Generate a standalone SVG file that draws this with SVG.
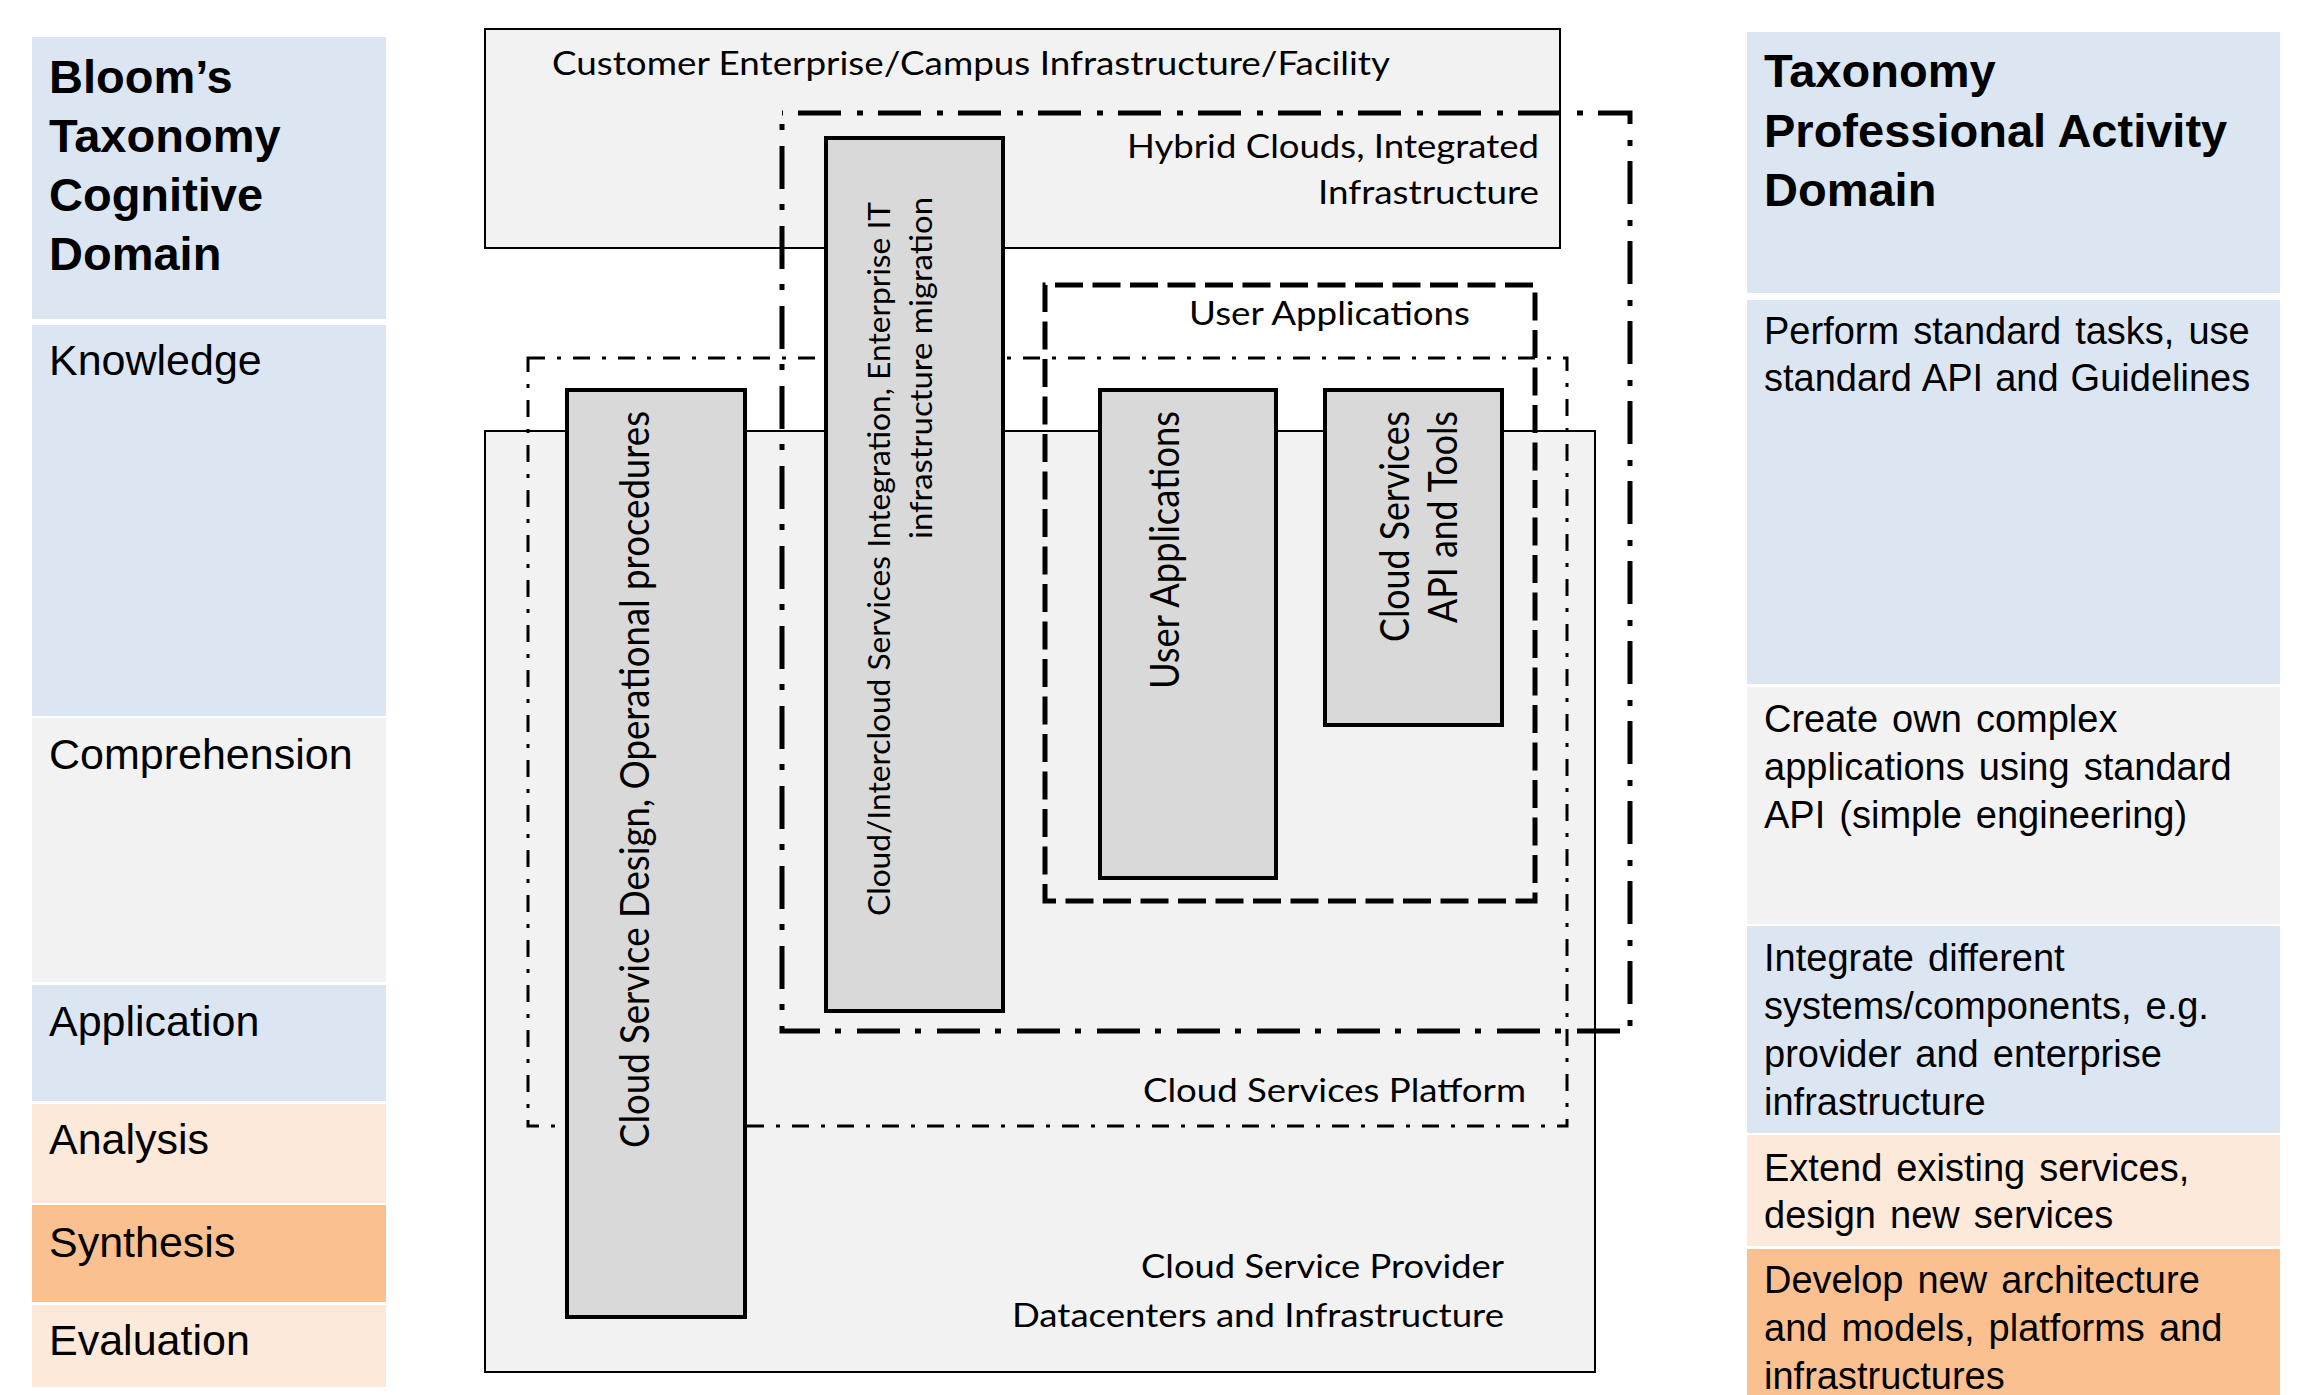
<svg xmlns="http://www.w3.org/2000/svg" width="2308" height="1395" viewBox="0 0 2308 1395">
<style>
.blue{fill:#dce6f2}
.gray{fill:#f2f2f2}
.peach{fill:#fde9d9}
.orange{fill:#fac090}
.hd{font-family:"Liberation Sans",Arial,sans-serif;font-weight:bold;font-size:47px;fill:#000}
.lt{font-family:"Liberation Sans",Arial,sans-serif;font-size:43px;fill:#000}
.rt{font-family:"Liberation Sans",Arial,sans-serif;font-size:38px;fill:#000;word-spacing:3.5px}
.area{fill:#f2f2f2;stroke:#000;stroke-width:2}
.box{fill:#d9d9d9;stroke:#000;stroke-width:4}
.lbl{font-family:Lato,"Open Sans",sans-serif;font-size:32px;fill:#000}
.vt{font-family:Lato,"Open Sans",sans-serif;font-size:41px;fill:#000}
.vs{font-family:Lato,"Open Sans",sans-serif;font-size:31px;fill:#000}
</style>
<rect width="2308" height="1395" fill="#fff"/>

<g id="bloom-column">
  <g id="bloom-header">
    <rect class="blue" x="32" y="37" width="354" height="282"/>
    <text class="hd" x="49" y="93">Bloom’s</text>
    <text class="hd" x="49" y="152">Taxonomy</text>
    <text class="hd" x="49" y="211">Cognitive</text>
    <text class="hd" x="49" y="270">Domain</text>
  </g>
  <g id="knowledge">
    <rect class="blue" x="32" y="325" width="354" height="391"/>
    <text class="lt" x="49" y="375">Knowledge</text>
  </g>
  <g id="comprehension">
    <rect class="gray" x="32" y="718" width="354" height="264"/>
    <text class="lt" x="49" y="769">Comprehension</text>
  </g>
  <g id="application">
    <rect class="blue" x="32" y="985" width="354" height="116"/>
    <text class="lt" x="49" y="1036">Application</text>
  </g>
  <g id="analysis">
    <rect class="peach" x="32" y="1104" width="354" height="99"/>
    <text class="lt" x="49" y="1154">Analysis</text>
  </g>
  <g id="synthesis">
    <rect class="orange" x="32" y="1205" width="354" height="97"/>
    <text class="lt" x="49" y="1257">Synthesis</text>
  </g>
  <g id="evaluation">
    <rect class="peach" x="32" y="1305" width="354" height="82"/>
    <text class="lt" x="49" y="1355">Evaluation</text>
  </g>
</g>

<g id="activity-column">
  <g id="activity-header">
    <rect class="blue" x="1747" y="32" width="533" height="261"/>
    <text class="hd" x="1764" y="87">Taxonomy</text>
    <text class="hd" x="1764" y="147">Professional Activity</text>
    <text class="hd" x="1764" y="206">Domain</text>
  </g>
  <g id="act-knowledge">
    <rect class="blue" x="1747" y="300" width="533" height="384"/>
    <text class="rt" x="1764" y="344">Perform standard tasks, use</text>
    <text class="rt" x="1764" y="391" style="word-spacing:1.5px">standard API and Guidelines</text>
  </g>
  <g id="act-comprehension">
    <rect class="gray" x="1747" y="687" width="533" height="237"/>
    <text class="rt" x="1764" y="732">Create own complex</text>
    <text class="rt" x="1764" y="780">applications using standard</text>
    <text class="rt" x="1764" y="828">API (simple engineering)</text>
  </g>
  <g id="act-application">
    <rect class="blue" x="1747" y="926" width="533" height="207"/>
    <text class="rt" x="1764" y="971">Integrate different</text>
    <text class="rt" x="1764" y="1019">systems/components, e.g.</text>
    <text class="rt" x="1764" y="1067">provider and enterprise</text>
    <text class="rt" x="1764" y="1115">infrastructure</text>
  </g>
  <g id="act-analysis">
    <rect class="peach" x="1747" y="1135" width="533" height="111"/>
    <text class="rt" x="1764" y="1181">Extend existing services,</text>
    <text class="rt" x="1764" y="1228">design new services</text>
  </g>
  <g id="act-synthesis">
    <rect class="orange" x="1747" y="1249" width="533" height="146"/>
    <text class="rt" x="1764" y="1293">Develop new architecture</text>
    <text class="rt" x="1764" y="1341">and models, platforms and</text>
    <text class="rt" x="1764" y="1389">infrastructures</text>
  </g>
</g>

<g id="customer-enterprise">
  <rect class="area" x="485" y="29" width="1075" height="219"/>
</g>
<g id="cloud-service-provider">
  <rect class="area" x="485" y="431" width="1110" height="941"/>
</g>
<g id="cloud-services-platform">
  <rect x="528" y="358" width="1039" height="768" fill="none" stroke="#000" stroke-width="3" stroke-dasharray="17 12 4 12"/>
</g>
<g id="hybrid-clouds">
  <rect x="782" y="113" width="848" height="918" fill="none" stroke="#000" stroke-width="5" stroke-dasharray="43 16 6 15" stroke-dashoffset="-16"/>
</g>
<g id="user-applications-area">
  <rect x="1045" y="285" width="490" height="616" fill="none" stroke="#000" stroke-width="5" stroke-dasharray="28 9.5" stroke-dashoffset="-10"/>
</g>

<g id="design-box">
  <rect class="box" x="567" y="390" width="178" height="927"/>
  <text class="vt" transform="translate(649,1148) rotate(-90)" textLength="737" lengthAdjust="spacingAndGlyphs">Cloud Service Design, Operational procedures</text>
</g>
<g id="intercloud-box">
  <rect class="box" x="826" y="138" width="177" height="873"/>
  <text class="vs" transform="translate(890,916) rotate(-90)" textLength="714" lengthAdjust="spacingAndGlyphs">Cloud/Intercloud Services Integration, Enterprise IT</text>
  <text class="vs" transform="translate(932,539) rotate(-90)" textLength="342" lengthAdjust="spacingAndGlyphs">infrastructure  migration</text>
</g>
<g id="user-apps-box">
  <rect class="box" x="1100" y="390" width="176" height="488"/>
  <text class="vt" transform="translate(1179,689) rotate(-90)" textLength="278" lengthAdjust="spacingAndGlyphs">User Applications</text>
</g>
<g id="api-box">
  <rect class="box" x="1325" y="390" width="177" height="335"/>
  <text class="vt" transform="translate(1409,642) rotate(-90)" textLength="231" lengthAdjust="spacingAndGlyphs">Cloud Services</text>
  <text class="vt" transform="translate(1457,623) rotate(-90)" textLength="212" lengthAdjust="spacingAndGlyphs">API and Tools</text>
</g>

<g id="area-labels">
  <text class="lbl" x="552" y="75" textLength="838" lengthAdjust="spacingAndGlyphs">Customer Enterprise/Campus Infrastructure/Facility</text>
  <text class="lbl" x="1127" y="158" textLength="412" lengthAdjust="spacingAndGlyphs">Hybrid Clouds, Integrated</text>
  <text class="lbl" x="1318" y="204" textLength="221" lengthAdjust="spacingAndGlyphs">Infrastructure</text>
  <text class="lbl" x="1189" y="325" textLength="281" lengthAdjust="spacingAndGlyphs">User Applications</text>
  <text class="lbl" x="1143" y="1102" textLength="383" lengthAdjust="spacingAndGlyphs">Cloud Services Platform</text>
  <text class="lbl" x="1141" y="1278" textLength="363" lengthAdjust="spacingAndGlyphs">Cloud Service Provider</text>
  <text class="lbl" x="1012" y="1327" textLength="492" lengthAdjust="spacingAndGlyphs">Datacenters and Infrastructure</text>
</g>
</svg>
